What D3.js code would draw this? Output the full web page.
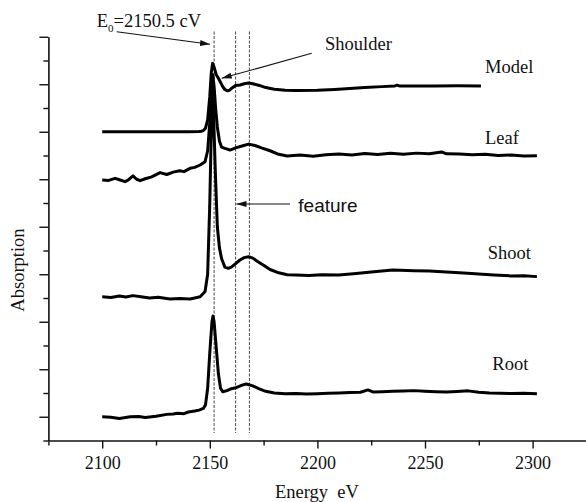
<!DOCTYPE html>
<html><head><meta charset="utf-8">
<script src="https://cdn.jsdelivr.net/npm/d3@7"></script>
<style>
html,body{margin:0;padding:0;background:#fff;}
svg{display:block;}
</style></head>
<body>
<svg id="chart" width="586" height="502"></svg>
<script>
// ---------- data (energy in eV, absorption in arbitrary stacked units) ----------
const modelE = [2100,2110,2120,2130,2140,2145,2146,2147,2148,2149,2150,2150.7,2151.3,2152,2153,2154,2155,2156,2157,2158,2159,2160,2162,2164,2166,2168,2170,2173,2176,2180,2185,2190,2200,2208,2215,2222,2230,2236,2237,2238,2245,2255,2265,2276];
const modelY = [13.0,13.0,13.0,13.0,13.0,13.01,13.02,13.05,13.15,13.5,14.5,15.5,15.88,15.72,15.4,15.25,15.08,14.9,14.78,14.73,14.74,14.82,14.95,14.97,15.02,15.05,15.02,14.95,14.86,14.79,14.75,14.74,14.75,14.78,14.82,14.86,14.9,14.93,14.96,14.93,14.93,14.93,14.94,14.93];

const leafE = [2100,2103,2106,2108,2110.6,2112,2114.3,2116,2117.6,2120,2123,2126.9,2130,2133,2136,2138,2140.8,2143,2145.5,2147.8,2149,2150,2150.8,2151.4,2152,2152.7,2153.5,2154.5,2155.5,2157,2159.4,2162,2165,2168,2171,2174,2178,2182,2186,2192,2198,2204,2210,2216,2222,2228,2234,2240,2246,2252,2257.7,2260,2266,2272,2278,2284,2290,2296,2302];
const leafY = [10.97,10.95,11.04,10.98,10.9,10.96,11.14,11.0,10.94,11.02,11.1,11.28,11.2,11.3,11.36,11.32,11.46,11.5,11.6,11.74,12.2,13.4,14.8,15.4,14.9,14.0,13.2,12.6,12.35,12.3,12.23,12.32,12.4,12.48,12.42,12.32,12.2,12.05,11.98,12.02,11.97,12.03,12.06,12.02,12.08,12.04,12.09,12.05,12.1,12.07,12.15,12.07,12.06,12.03,12.05,12.0,12.02,11.98,11.99];

const shootE = [2100,2104,2108,2111,2114.3,2118,2122,2126,2131.5,2136,2140.8,2143,2145.5,2147.8,2149,2150,2150.8,2151.3,2151.8,2152.5,2153.5,2154.5,2155.5,2157,2158.6,2160,2162,2164,2166,2168,2170,2172,2175,2178,2182,2186,2190,2196,2202,2210,2218,2225,2235,2245,2252,2260,2268,2275,2282,2290,2296,2302];
const shootY = [6.05,6.02,6.08,6.04,6.1,6.05,6.0,6.03,5.96,5.98,5.96,6.0,6.05,6.27,7.0,10.0,13.5,14.6,13.6,11.5,9.0,8.1,7.65,7.3,7.25,7.3,7.45,7.6,7.7,7.74,7.68,7.55,7.38,7.2,7.06,6.98,6.97,6.95,6.98,6.97,7.03,7.09,7.18,7.15,7.14,7.09,7.05,7.01,6.97,6.93,6.94,6.9];

const rootE = [2100,2104,2108,2113,2117,2120,2125,2130,2133,2135,2138,2140,2143,2145,2147,2148,2149,2150,2151,2151.5,2152,2153,2154,2155,2156,2158,2160,2162,2165,2167,2170,2173,2176,2180,2185,2190,2195,2200,2205,2210,2215,2220,2223.5,2226,2230,2235,2240,2245,2250,2255,2260,2265,2270,2275,2280,2285,2290,2296,2302];
const rootY = [1.0,0.98,0.93,1.0,1.01,0.97,1.02,1.1,1.12,1.15,1.13,1.2,1.24,1.28,1.35,1.5,2.2,3.7,5.0,5.24,5.0,3.9,2.8,2.2,2.05,2.1,2.18,2.22,2.33,2.38,2.3,2.17,2.07,2.0,1.97,1.98,1.96,1.97,1.99,2.0,2.02,2.03,2.13,2.04,2.05,2.07,2.08,2.1,2.07,2.05,2.04,2.06,2.09,2.03,2.0,1.99,1.98,1.99,1.97];

const seriesNames = ["Model","Leaf","Shoot","Root"];
const xTicksMajor = [2100,2150,2200,2250,2300];
const xTicksMinor = [2075,2125,2175,2225,2275,2325];
const yTicksMajor = [1,3,5,7,9,11,13,15,17];
const yTicksMinor = [0,2,4,6,8,10,12,14,16];
const markerLines = [2152,2162,2168.4];

// ---------- drawing ----------
const SERIF = "'Liberation Serif','Times New Roman',serif";
const SANS = "'Liberation Sans',Arial,sans-serif";
const svg = d3.select("#chart");
const x = d3.scaleLinear().domain([2075,2325]).range([48.4,586.4]);
const y = d3.scaleLinear().domain([0,17]).range([440.5,36.75]);

// vertical dotted marker lines
svg.append("g").selectAll("line").data(markerLines).join("line")
  .attr("x1",d=>x(d)).attr("x2",d=>x(d))
  .attr("y1",31.5).attr("y2",433)
  .attr("stroke","#333").attr("stroke-width",0.9).attr("stroke-dasharray","3,1.5");

// axes
const gx = svg.append("g").attr("transform",`translate(0,${y(0)})`);
gx.call(d3.axisBottom(x).tickValues(xTicksMinor).tickSize(5).tickSizeOuter(0).tickFormat(""));
const gx2 = svg.append("g").attr("transform",`translate(0,${y(0)})`);
gx2.call(d3.axisBottom(x).tickValues(xTicksMajor).tickSize(8).tickSizeOuter(0).tickFormat(d3.format("d")).tickPadding(8));
gx2.select(".domain").remove();
const gy = svg.append("g").attr("transform",`translate(${x(2075)},0)`);
gy.call(d3.axisLeft(y).tickValues(yTicksMinor).tickSize(5).tickSizeOuter(0).tickFormat(""));
const gy2 = svg.append("g").attr("transform",`translate(${x(2075)},0)`);
gy2.call(d3.axisLeft(y).tickValues(yTicksMajor).tickSize(9).tickSizeOuter(0).tickFormat(""));
gy2.select(".domain").remove();
svg.selectAll(".domain").attr("stroke","#111").attr("stroke-width",1.6);
svg.selectAll(".tick line").attr("stroke","#111").attr("stroke-width",1.4);
svg.selectAll(".tick text").style("font-family",SERIF).style("font-size","18px").attr("fill","#111");

// traces
const line = d3.line().x(d=>x(d[0])).y(d=>y(d[1])).curve(d3.curveLinear);
const data = [
  d3.zip(modelE,modelY), d3.zip(leafE,leafY), d3.zip(shootE,shootY), d3.zip(rootE,rootY)
];
svg.append("g").selectAll("path").data(data).join("path")
  .attr("d",line).attr("fill","none").attr("stroke","#000")
  .attr("stroke-width",3).attr("stroke-linejoin","round");

// series labels
const labelPos = [[485,73.3],[485,144],[487.7,259],[492.3,370]];
svg.append("g").selectAll("text").data(seriesNames).join("text")
  .attr("x",(d,i)=>labelPos[i][0]).attr("y",(d,i)=>labelPos[i][1])
  .style("font-family",SERIF).style("font-size","18.5px").attr("fill","#111").text(d=>d);

// annotations
const defs = svg.append("defs");
defs.append("marker").attr("id","ah").attr("viewBox","0 0 10 6").attr("refX",10).attr("refY",3)
  .attr("markerWidth",10).attr("markerHeight",6).attr("markerUnits","userSpaceOnUse").attr("orient","auto")
  .append("path").attr("d","M0,0L10,3L0,6Z").attr("fill","#111");

function arrow(x1,y1,x2,y2){
  svg.append("line").attr("x1",x1).attr("y1",y1).attr("x2",x2).attr("y2",y2)
    .attr("stroke","#111").attr("stroke-width",1.1).attr("marker-end","url(#ah)");
}
arrow(116.7,31.7,210,44.3);
arrow(311.7,53.3,221.7,78.3);
arrow(290,204,236.5,204);

const e0 = svg.append("text").attr("x",96.7).attr("y",26.7)
  .style("font-family",SERIF).style("font-size","18.5px").attr("fill","#111");
e0.append("tspan").text("E");
e0.append("tspan").style("font-size","11px").attr("dy",5).text("0");
e0.append("tspan").attr("dy",-5).text("=2150.5 cV");

svg.append("text").attr("x",325).attr("y",50).style("font-family",SERIF).style("font-size","18.5px")
  .attr("fill","#111").text("Shoulder");
svg.append("text").attr("x",298.3).attr("y",211.5).style("font-family",SANS).style("font-size","19px")
  .attr("fill","#111").text("feature");

// axis titles
svg.append("text").attr("x",317).attr("y",498).attr("text-anchor","middle")
  .style("font-family",SERIF).style("font-size","18.5px").style("white-space","pre")
  .attr("fill","#111").text("Energy  eV");
svg.append("text").attr("transform","translate(23.5,270) rotate(-90)").attr("text-anchor","middle")
  .style("font-family",SERIF).style("font-size","18.5px").attr("fill","#111").text("Absorption");
</script>
</body></html>
